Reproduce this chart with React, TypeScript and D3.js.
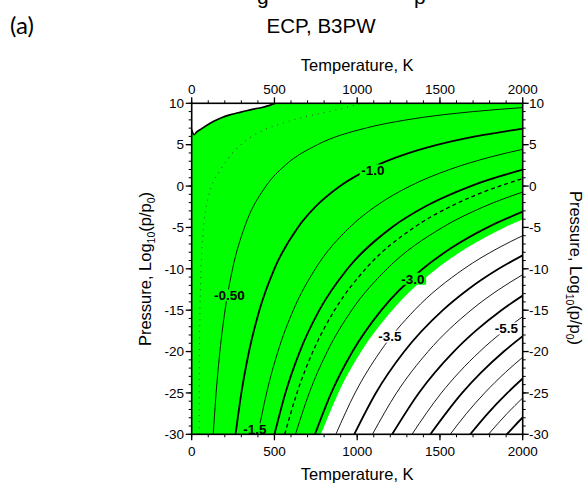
import * as d3 from "d3";

type Pt = [number, number]; // [temperature K, log10(p/p0)]

const xTicks = [0, 500, 1000, 1500, 2000];
const yTicks = [-30, -25, -20, -15, -10, -5, 0, 5, 10];

// border of the white corner at the top left
const upperBorder: Pt[] = [[0, 6.8], [6, 6.45], [14, 6.2], [30, 6.55], [50, 6.8], [80, 7.2], [130, 7.8], [180, 8.25], [230, 8.6], [280, 8.85], [330, 9.1], [380, 9.33], [430, 9.52], [470, 9.75], [505, 10]];
// border between the green field and the white field at the lower right
const lowerBorder: Pt[] = [[781, -30], [886, -25], [1024, -20], [1212, -15], [1480, -10], [1660, -7.5], [1890, -5], [2000, -4]];

// contour lines
const dotted: Pt[] = [[45, -30], [46, -24], [48, -18], [52, -13], [58, -9], [67, -6], [80, -3.5], [98, -1.5], [120, 0], [165, 1.7], [235, 3.7], [335, 5.6], [450, 6.9], [550, 7.6], [650, 8.2], [750, 8.65], [850, 9.1], [950, 9.6], [1030, 10]];
const level050: Pt[] = [[130, -30], [147.5, -25], [170.3, -20], [201.6, -15], [247, -10], [318.7, -5], [449, 0], [564.4, 2.5], [759.8, 5], [1050.6, 7], [1299.2, 8], [1702, 9], [2000, 9.48]];
const level100: Pt[] = [[265, -30], [300.2, -25], [346.3, -20], [409.1, -15], [499.7, -10], [641.8, -5], [748.2, -2.5], [896.8, 0], [1119.2, 2.5], [1314.8, 4], [1488.3, 5], [1714.4, 6], [2000, 6.94]];
const level150: Pt[] = [[400, -30], [452.6, -25], [521, -20], [613.9, -15], [747.1, -10], [954, -5], [1107.4, -2.5], [1319.5, 0], [1558.4, 2], [1803.1, 3.5], [2000, 4.44]];
const level200: Pt[] = [[500, -30], [566.4, -25], [653.2, -20], [771.3, -15], [941.7, -10], [1208.6, -5], [1408.2, -2.5], [1686.7, 0], [2000, 1.98]];
const dashed: Pt[] = [[562, -30], [636, -25], [732.4, -20], [863.3, -15], [1051.2, -10], [1343.6, -5], [1560.6, -2.5], [1861.3, 0], [2000, 0.9]];
const level250: Pt[] = [[627, -30], [710.3, -25], [819, -20], [967.1, -15], [1180.6, -10], [1515, -5], [1765, -2.5], [2000, -0.72]];
const level300: Pt[] = [[745, -30], [843.4, -25], [971.7, -20], [1146, -15], [1396.6, -10], [1568, -7.5], [1787.3, -5], [2000, -3.1]];
const level350: Pt[] = [[871, -30], [987.1, -25], [1139, -20], [1346.1, -15], [1645.2, -10], [1850.9, -7.5], [2000, -6]];
const level400: Pt[] = [[982, -30], [1112.9, -25], [1284.2, -20], [1517.6, -15], [1669.4, -12.5], [1854.9, -10], [2000, -8.37]];
const level450: Pt[] = [[1092, -30], [1237.6, -25], [1428, -20], [1687.6, -15], [1856.4, -12.5], [2000, -10.71]];
const level500: Pt[] = [[1211, -30], [1372.5, -25], [1583.6, -20], [1715.6, -17.5], [1871.5, -15], [2000, -13.23]];
const level550: Pt[] = [[1331, -30], [1508.5, -25], [1616.2, -22.5], [1740.5, -20], [1885.6, -17.5], [2000, -15.78]];
const level600: Pt[] = [[1442, -30], [1634.3, -25], [1751, -22.5], [1885.7, -20], [2000, -18.14]];
const level650: Pt[] = [[1562, -30], [1659.6, -27.5], [1770.3, -25], [1896.7, -22.5], [2000, -20.69]];
const level700: Pt[] = [[1683, -30], [1788.2, -27.5], [1907.4, -25], [2000, -23.26]];
const level750: Pt[] = [[1793, -30], [1905.1, -27.5], [2000, -25.6]];
const level800: Pt[] = [[1904, -30], [1949.9, -29], [2000, -27.96]];

const labelText = ["-0.50", "-1.0", "-1.5", "-3.0", "-3.5", "-5.5"];
const labelT = [228, 1095, 382, 1337, 1198, 1902];
const labelP = [-13.2, 1.9, -29.4, -11.2, -18.2, -17.2];

const thinLines = [level050, level150, level250, level350, level450, level550, level650, level750];
const thickLines = [level100, level200, level300, level400, level500, level600, level700, level800];

const FONT = "Arial, 'Liberation Sans', sans-serif";
const GREEN = "#00ff00";

export default function App() {
  const x = d3.scaleLinear().domain([0, 2000]).range([191.7, 522.7]);
  const y = d3.scaleLinear().domain([-30, 10]).range([434.3, 103.3]);
  const [x0, x1] = x.range();
  const [y0, y1] = [y(-30), y(10)];

  const line = d3
    .line<Pt>()
    .x((d) => x(d[0]))
    .y((d) => y(d[1]))
    .curve(d3.curveMonotoneX);

  const topWhite = d3
    .area<Pt>()
    .x((d) => x(d[0]))
    .y0(y(10) - 2)
    .y1((d) => y(d[1]))
    .curve(d3.curveMonotoneX);
  const bottomWhite = d3
    .area<Pt>()
    .x((d) => x(d[0]))
    .y0(y(-30) + 2)
    .y1((d) => y(d[1]))
    .curve(d3.curveMonotoneX);

  const xMinor = d3.range(0, 2001, 100);
  const yMinor = d3.range(-30, 11, 1);

  const pressureTitle = (
    <>
      Pressure, Log<tspan fontSize={10.5} dy={4}>10</tspan>
      <tspan dy={-4}>(p/p</tspan>
      <tspan fontSize={10.5} dy={4}>0</tspan>
      <tspan dy={-4}>)</tspan>
    </>
  );

  return (
    <svg
      width={584}
      height={483}
      style={{ position: "absolute", left: 0, top: 0, background: "#fff" }}
      fontFamily={FONT}
    >
      <defs>
        <clipPath id="plotClip">
          <rect x={x0} y={y1} width={x1 - x0} height={y0 - y1} />
        </clipPath>
      </defs>

      {/* cut-off heading above the panel */}
      <text x={257} y={3.5} fontSize={21}>g</text>
      <text x={414} y={3.5} fontSize={21}>p</text>

      <text x={10} y={33.5} fontSize={24} fontFamily="Lato, 'Open Sans', sans-serif">(a)</text>
      <text x={321} y={33} fontSize={20.5} textAnchor="middle">ECP, B3PW</text>

      <g clipPath="url(#plotClip)">
        <rect x={x0} y={y1} width={x1 - x0} height={y0 - y1} fill={GREEN} />
        <path d={topWhite(upperBorder) ?? ""} fill="#fff" />
        <path d={bottomWhite(lowerBorder) ?? ""} fill="#fff" />

        <path d={line(upperBorder) ?? ""} fill="none" stroke="#000" strokeWidth={1.6} />
        <path d={line(dotted) ?? ""} fill="none" stroke="#2d5a2d" strokeWidth={1.1} strokeDasharray="1,5" />
        {thinLines.map((pts, i) => (
          <path key={"t" + i} d={line(pts) ?? ""} fill="none" stroke="#000" strokeWidth={0.9} />
        ))}
        {thickLines.map((pts, i) => (
          <path key={"k" + i} d={line(pts) ?? ""} fill="none" stroke="#000" strokeWidth={1.8} />
        ))}
        <path d={line(dashed) ?? ""} fill="none" stroke="#000" strokeWidth={1.3} strokeDasharray="4,3" />

        {labelText.map((t, i) => {
          const cx = x(labelT[i]);
          const cy = y(labelP[i]);
          const w = t.length * 6.6;
          const bg = i >= 4 ? "#fff" : GREEN;
          return (
            <g key={t}>
              <rect x={cx - w / 2} y={cy - 6} width={w} height={12} fill={bg} />
              <text x={cx} y={cy + 4.8} fontSize={13.5} fontWeight="bold" textAnchor="middle">
                {t}
              </text>
            </g>
          );
        })}
      </g>

      {/* frame */}
      <rect x={x0} y={y1} width={x1 - x0} height={y0 - y1} fill="none" stroke="#000" strokeWidth={1.6} />

      {/* minor ticks */}
      {xMinor.map((v) => (
        <g key={"xm" + v} stroke="#000" strokeWidth={1}>
          <line x1={x(v)} x2={x(v)} y1={y0} y2={y0 + 3} />
          <line x1={x(v)} x2={x(v)} y1={y1} y2={y1 - 3} />
        </g>
      ))}
      {yMinor.map((v) => (
        <g key={"ym" + v} stroke="#000" strokeWidth={1}>
          <line x1={x0} x2={x0 - 3} y1={y(v)} y2={y(v)} />
          <line x1={x1} x2={x1 + 3} y1={y(v)} y2={y(v)} />
        </g>
      ))}
      {/* major ticks and labels */}
      {xTicks.map((v) => (
        <g key={"x" + v}>
          <line x1={x(v)} x2={x(v)} y1={y0} y2={y0 + 6} stroke="#000" strokeWidth={1.3} />
          <line x1={x(v)} x2={x(v)} y1={y1} y2={y1 - 6} stroke="#000" strokeWidth={1.3} />
          <text x={x(v)} y={455.5} fontSize={13.5} textAnchor="middle">{v}</text>
          <text x={x(v)} y={93.5} fontSize={13.5} textAnchor="middle">{v}</text>
        </g>
      ))}
      {yTicks.map((v) => (
        <g key={"y" + v}>
          <line x1={x0} x2={x0 - 6} y1={y(v)} y2={y(v)} stroke="#000" strokeWidth={1.3} />
          <line x1={x1} x2={x1 + 6} y1={y(v)} y2={y(v)} stroke="#000" strokeWidth={1.3} />
          <text x={184} y={y(v) + 4.8} fontSize={13.5} textAnchor="end">{v}</text>
          <text x={529} y={y(v) + 4.8} fontSize={13.5}>{v}</text>
        </g>
      ))}

      {/* axis titles */}
      <text x={(x0 + x1) / 2} y={70.5} fontSize={16.5} textAnchor="middle">Temperature, K</text>
      <text x={(x0 + x1) / 2} y={479.5} fontSize={16.5} textAnchor="middle">Temperature, K</text>
      <text transform="translate(150.5,269) rotate(-90)" fontSize={16.5} textAnchor="middle">
        {pressureTitle}
      </text>
      <text transform="translate(570,268) rotate(90)" fontSize={16.5} textAnchor="middle">
        {pressureTitle}
      </text>
    </svg>
  );
}
